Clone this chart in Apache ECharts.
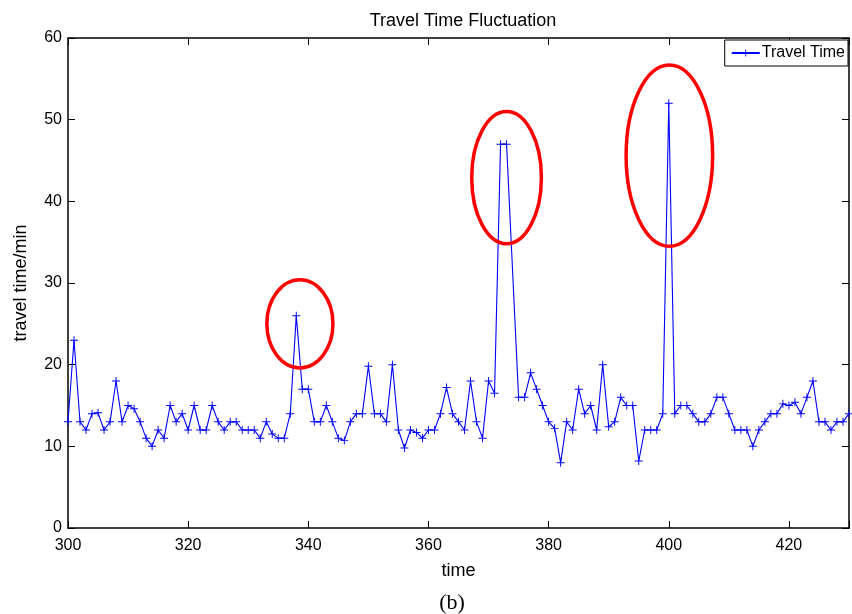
<!DOCTYPE html>
<html>
<head>
<meta charset="utf-8">
<script src="https://cdn.jsdelivr.net/npm/echarts@6/dist/echarts.min.js"></script>
<style>
html, body { margin: 0; padding: 0; background: #fff; }
#chart { width: 852px; height: 614px; }
</style>
</head>
<body>
<div id="chart"></div>
<script>
// sample times (374 has no sample)
const times = [
    300, 301, 302, 303, 304, 305, 306, 307, 308, 309,
    310, 311, 312, 313, 314, 315, 316, 317, 318, 319,
    320, 321, 322, 323, 324, 325, 326, 327, 328, 329,
    330, 331, 332, 333, 334, 335, 336, 337, 338, 339,
    340, 341, 342, 343, 344, 345, 346, 347, 348, 349,
    350, 351, 352, 353, 354, 355, 356, 357, 358, 359,
    360, 361, 362, 363, 364, 365, 366, 367, 368, 369,
    370, 371, 372, 373, 375, 376, 377, 378, 379,
    380, 381, 382, 383, 384, 385, 386, 387, 388, 389,
    390, 391, 392, 393, 394, 395, 396, 397, 398, 399,
    400, 401, 402, 403, 404, 405, 406, 407, 408, 409,
    410, 411, 412, 413, 414, 415, 416, 417, 418, 419,
    420, 421, 422, 423, 424, 425, 426, 427, 428, 429,
    430
];

const travelTime = [
    13, 23, 13, 12, 14, 14.1, 12, 13, 18, 13,
    15, 14.6, 13, 11, 10, 12, 11, 15, 13, 14,
    12, 15, 12, 12, 15, 13, 12, 13, 13, 12,
    12, 12, 11, 13, 11.5, 11, 11, 14, 26, 17,
    17, 13, 13, 15, 13, 11, 10.7, 13, 14, 14,
    19.8, 14, 14, 13, 20, 12, 9.8, 12, 11.7, 11,
    12, 12, 14, 17.2, 14, 13, 12, 18, 13, 11,
    18, 16.5, 47, 47, 16, 16, 19, 17, 15,
    13, 12.2, 8, 13, 12, 17, 14, 15, 12, 20,
    12.4, 13, 16, 15, 15, 8.2, 12, 12, 12, 14,
    52, 14, 15, 15, 14, 13, 13, 14, 16, 16,
    14, 12, 12, 12, 10, 12, 13, 14, 14, 15.2,
    15, 15.4, 14, 16, 18, 13, 13, 12, 13, 13,
    14
];

const xTickLabels = [300, 320, 340, 360, 380, 400, 420];
const yTickLabels = [0, 10, 20, 30, 40, 50, 60];

// red rings around the spikes: [centre time, centre value, half width (time), half height (value)]
const rings = [
    [338.6, 25.0, 5.5, 5.4],
    [373.0, 42.9, 5.8, 8.1],
    [400.1, 45.6, 7.2, 11.1]
];

const points = times.map((t, i) => [t, travelTime[i]]);

const plusIcon = 'path://M4.4,0h1.2v4.4h4.4v1.2h-4.4v4.4h-1.2v-4.4h-4.4v-1.2h4.4z';
const FONT = 'Liberation Sans, Arial, sans-serif';

const chart = echarts.init(document.getElementById('chart'));

const axisBase = {
    type: 'value',
    axisLine: { show: true, onZero: false, lineStyle: { color: '#000', width: 1.5 } },
    axisTick: { show: true, inside: true, length: 7, lineStyle: { color: '#000', width: 1 } },
    splitLine: { show: false }
};

chart.setOption({
    backgroundColor: '#fff',
    animation: false,
    title: [
        {
            text: 'Travel Time Fluctuation',
            left: 458,
            top: 7,
            textAlign: 'center',
            textStyle: { fontFamily: FONT, fontSize: 18, fontWeight: 'normal', color: '#000' }
        },
        {
            text: '(b)',
            left: 447,
            top: 587,
            textAlign: 'center',
            textStyle: { fontFamily: 'Liberation Serif, Times New Roman, serif', fontSize: 22, fontWeight: 'normal', color: '#000' }
        }
    ],
    grid: { left: 68, right: 3, top: 38, bottom: 86 },
    legend: {
        right: 4,
        top: 40,
        data: ['Travel Time'],
        orient: 'vertical',
        backgroundColor: '#fff',
        borderColor: '#000',
        borderWidth: 1,
        borderRadius: 0,
        padding: [5, 3, 5, 6],
        itemWidth: 28,
        itemHeight: 9,
        itemGap: 4,
        textStyle: { fontFamily: FONT, fontSize: 16, color: '#000', padding: [0, 0, 0, -3] }
    },
    xAxis: [
        Object.assign({}, axisBase, {
            position: 'bottom',
            min: 300,
            max: 430,
            interval: 20,
            name: 'time',
            nameLocation: 'middle',
            nameGap: 34,
            nameTextStyle: { fontFamily: FONT, fontSize: 18, color: '#000' },
            axisLabel: {
                show: true,
                margin: 10,
                fontFamily: FONT,
                fontSize: 16,
                color: '#000',
                formatter: v => xTickLabels.includes(v) ? String(v) : ''
            }
        }),
        Object.assign({}, axisBase, {
            position: 'top',
            min: 300,
            max: 430,
            interval: 20,
            axisLabel: { show: false }
        })
    ],
    yAxis: [
        Object.assign({}, axisBase, {
            position: 'left',
            min: 0,
            max: 60,
            interval: 10,
            name: 'travel time/min',
            nameLocation: 'middle',
            nameGap: 38,
            nameTextStyle: { fontFamily: FONT, fontSize: 18, color: '#000' },
            axisLabel: {
                show: true,
                margin: 6,
                fontFamily: FONT,
                fontSize: 16,
                color: '#000',
                formatter: v => yTickLabels.includes(v) ? String(v) : ''
            }
        }),
        Object.assign({}, axisBase, {
            position: 'right',
            min: 0,
            max: 60,
            interval: 10,
            axisLabel: { show: false }
        })
    ],
    series: [{
        name: 'Travel Time',
        type: 'line',
        data: points,
        xAxisIndex: 0,
        yAxisIndex: 0,
        symbol: plusIcon,
        symbolSize: 8,
        showSymbol: true,
        showAllSymbol: true,
        clip: false,
        lineStyle: { color: '#0000ff', width: 1.1 },
        itemStyle: { color: '#0000ff', borderWidth: 0 },
        emphasis: { disabled: true }
    }]
});

// rings placed through the axis scales
const ringGraphics = rings.map(r => {
    const c = chart.convertToPixel({ seriesIndex: 0 }, [r[0], r[1]]);
    const ex = chart.convertToPixel({ seriesIndex: 0 }, [r[0] + r[2], r[1]]);
    const ey = chart.convertToPixel({ seriesIndex: 0 }, [r[0], r[1] + r[3]]);
    return {
        type: 'ellipse',
        shape: { cx: c[0], cy: c[1], rx: Math.abs(ex[0] - c[0]), ry: Math.abs(c[1] - ey[1]) },
        style: { fill: null, stroke: '#ff0000', lineWidth: 3.5 },
        z: 10
    };
});

chart.setOption({ graphic: ringGraphics });
</script>
</body>
</html>
